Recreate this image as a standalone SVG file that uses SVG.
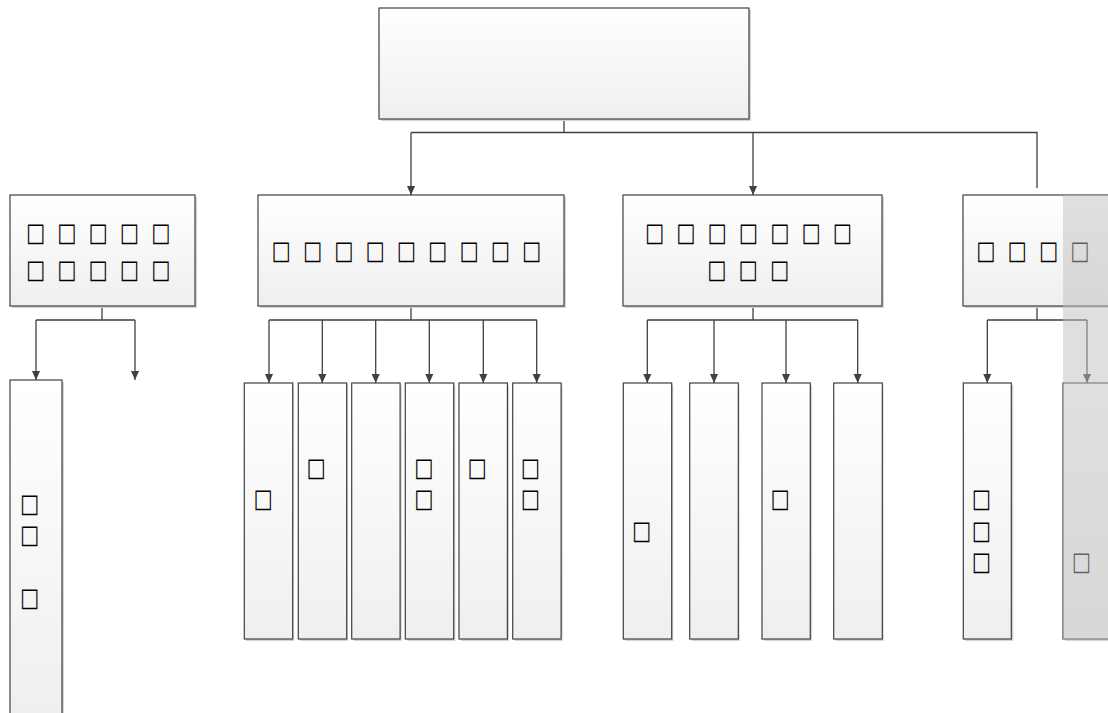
<svg xmlns="http://www.w3.org/2000/svg" width="1108" height="713" viewBox="0 0 1108 713">
<defs>
<linearGradient id="g" x1="0" y1="0" x2="0" y2="1">
<stop offset="0" stop-color="#ffffff"/>
<stop offset="1" stop-color="#efefef"/>
</linearGradient>
<marker id="arr" viewBox="0 0 10 10" refX="10" refY="5" markerWidth="9" markerHeight="9" markerUnits="userSpaceOnUse" orient="auto">
<path d="M0,0.5 L10,5 L0,9.5 z" fill="#404040"/>
</marker>
<style>
.sh{fill:#d4d4d4;}
.bx{fill:url(#g);stroke:#404040;stroke-width:1.2;}
.t{font-family:"DejaVu Sans",sans-serif;font-size:26px;fill:#000;text-anchor:middle;dominant-baseline:central;}
.c{fill:none;stroke:#404040;stroke-width:1.3;}
</style>
</defs>
<rect width="1108" height="713" fill="#ffffff"/>
<g id="connectors">
<path class="c" d="M564,119 V132.5 M411,132.5 H1037 V188"/>
<path class="c" d="M411,132.5 V195" marker-end="url(#arr)"/>
<path class="c" d="M753,132.5 V195" marker-end="url(#arr)"/>
<path class="c" d="M102,306 V320 M36,320 H135"/>
<path class="c" d="M36,320 V380" marker-end="url(#arr)"/>
<path class="c" d="M135,320 V380" marker-end="url(#arr)"/>
<path class="c" d="M411,306 V320 M269,320 H537"/>
<path class="c" d="M269,320 V383" marker-end="url(#arr)"/>
<path class="c" d="M322.3,320 V383" marker-end="url(#arr)"/>
<path class="c" d="M375.7,320 V383" marker-end="url(#arr)"/>
<path class="c" d="M429.3,320 V383" marker-end="url(#arr)"/>
<path class="c" d="M483.3,320 V383" marker-end="url(#arr)"/>
<path class="c" d="M536.7,320 V383" marker-end="url(#arr)"/>
<path class="c" d="M753,306 V320 M647.3,320 H857.7"/>
<path class="c" d="M647.3,320 V383" marker-end="url(#arr)"/>
<path class="c" d="M714,320 V383" marker-end="url(#arr)"/>
<path class="c" d="M786,320 V383" marker-end="url(#arr)"/>
<path class="c" d="M857.7,320 V383" marker-end="url(#arr)"/>
<path class="c" d="M1037,306 V320 M987.3,320 H1087"/>
<path class="c" d="M987.3,320 V383" marker-end="url(#arr)"/>
<path class="c" d="M1087,320 V383" marker-end="url(#arr)"/>
</g>
<g id="n-top">
<rect class="sh" x="381" y="10" width="370" height="111"/>
<rect class="bx" x="379" y="8" width="370" height="111"/>
</g>
<g id="n-a">
<rect class="sh" x="12" y="197" width="185" height="111"/>
<rect class="bx" x="10" y="195" width="185" height="111"/>
<text class="t" transform="scale(0.78,1)"><tspan x="45.51 85.64 125.77 165.9 206.03" y="230.8">□□□□□</tspan><tspan x="45.51 85.64 125.77 165.9 206.03" y="267.8">□□□□□</tspan></text>
</g>
<g id="n-b">
<rect class="sh" x="260" y="197" width="306" height="111"/>
<rect class="bx" x="258" y="195" width="306" height="111"/>
<text class="t" transform="scale(0.78,1)"><tspan x="360.51 400.64 440.77 480.9 521.03 561.15 601.28 641.41 681.54" y="248.8">□□□□□□□□□</tspan></text>
</g>
<g id="n-c">
<rect class="sh" x="625" y="197" width="259" height="111"/>
<rect class="bx" x="623" y="195" width="259" height="111"/>
<text class="t" transform="scale(0.78,1)"><tspan x="839.1 879.23 919.36 959.49 999.62 1039.74 1079.87" y="230.8">□□□□□□□</tspan><tspan x="918.97 959.23 999.36" y="267.8">□□□</tspan></text>
</g>
<g id="n-d">
<rect class="sh" x="965" y="197" width="160" height="111"/>
<rect class="bx" x="963" y="195" width="160" height="111"/>
<text class="t" transform="scale(0.78,1)"><tspan x="1263.85 1304.1 1344.23 1384.36" y="248.8">□□□□</tspan></text>
</g>
<g id="a1">
<rect class="sh" x="12" y="382" width="52" height="340"/>
<rect class="bx" x="10" y="380" width="52" height="340"/>
<text class="t" transform="scale(0.78,1)"><tspan x="37.82" y="501.8">□</tspan><tspan x="37.82" y="532.8">□</tspan><tspan x="37.82" y="595.8">□</tspan></text>
</g>
<g id="b1">
<rect class="sh" x="246" y="385" width="48" height="256"/>
<rect class="bx" x="244.3" y="383" width="48.4" height="256"/>
<text class="t" transform="scale(0.78,1)"><tspan x="337.18" y="496.8">□</tspan></text>
</g>
<g id="b2">
<rect class="sh" x="300" y="385" width="48" height="256"/>
<rect class="bx" x="298.3" y="383" width="48.4" height="256"/>
<text class="t" transform="scale(0.78,1)"><tspan x="405.13" y="465.8">□</tspan></text>
</g>
<g id="b3">
<rect class="sh" x="353.7" y="385" width="48" height="256"/>
<rect class="bx" x="351.7" y="383" width="48.4" height="256"/>
</g>
<g id="b4">
<rect class="sh" x="407.3" y="385" width="48" height="256"/>
<rect class="bx" x="405.3" y="383" width="48.4" height="256"/>
<text class="t" transform="scale(0.78,1)"><tspan x="543.21" y="465.8">□</tspan><tspan x="543.21" y="496.8">□</tspan></text>
</g>
<g id="b5">
<rect class="sh" x="461" y="385" width="48" height="256"/>
<rect class="bx" x="459" y="383" width="48.4" height="256"/>
<text class="t" transform="scale(0.78,1)"><tspan x="611.54" y="465.8">□</tspan></text>
</g>
<g id="b6">
<rect class="sh" x="514.7" y="385" width="48" height="256"/>
<rect class="bx" x="512.7" y="383" width="48.4" height="256"/>
<text class="t" transform="scale(0.78,1)"><tspan x="679.87" y="465.8">□</tspan><tspan x="679.87" y="496.8">□</tspan></text>
</g>
<g id="c1">
<rect class="sh" x="625.3" y="385" width="48" height="256"/>
<rect class="bx" x="623.3" y="383" width="48.4" height="256"/>
<text class="t" transform="scale(0.78,1)"><tspan x="822.69" y="528.8">□</tspan></text>
</g>
<g id="c2">
<rect class="sh" x="691.7" y="385" width="48" height="256"/>
<rect class="bx" x="689.7" y="383" width="48.6" height="256"/>
</g>
<g id="c3">
<rect class="sh" x="764" y="385" width="48" height="256"/>
<rect class="bx" x="762" y="383" width="48.3" height="256"/>
<text class="t" transform="scale(0.78,1)"><tspan x="1000" y="496.8">□</tspan></text>
</g>
<g id="c4">
<rect class="sh" x="835.7" y="385" width="48" height="256"/>
<rect class="bx" x="833.7" y="383" width="48.6" height="256"/>
</g>
<g id="d1">
<rect class="sh" x="965.3" y="385" width="48" height="256"/>
<rect class="bx" x="963.3" y="383" width="48" height="256"/>
<text class="t" transform="scale(0.78,1)"><tspan x="1258.08" y="496.8">□</tspan><tspan x="1258.08" y="528.8">□</tspan><tspan x="1258.08" y="559.8">□</tspan></text>
</g>
<g id="d2">
<rect class="sh" x="1065" y="385" width="50" height="256"/>
<rect class="bx" x="1063" y="383" width="60" height="256"/>
<text class="t" transform="scale(0.78,1)"><tspan x="1386.28" y="559.8">□</tspan></text>
</g>
<rect id="overlay" x="1063" y="195" width="45" height="445" fill="#c0c0c0" fill-opacity="0.5"/>
</svg>
